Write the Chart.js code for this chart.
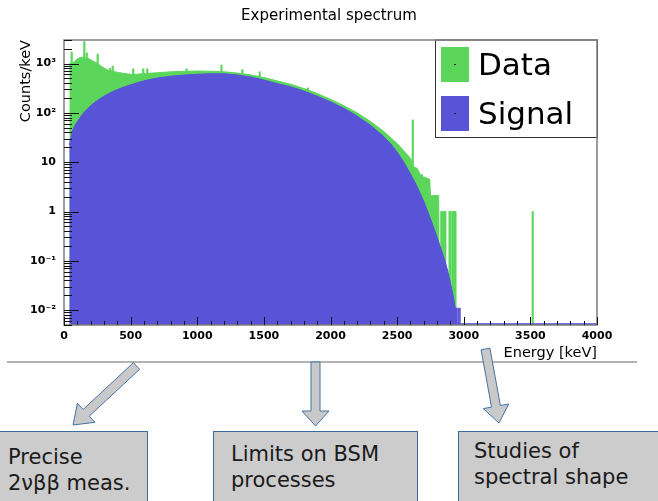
<!DOCTYPE html>
<html>
<head>
<meta charset="utf-8">
<script src="https://cdn.jsdelivr.net/npm/chart.js@4.4.1/dist/chart.umd.min.js"></script>
<style>
  html, body { margin: 0; padding: 0; background: #fff; }
  body { width: 658px; height: 501px; position: relative; overflow: hidden; font-family: "DejaVu Sans", sans-serif; }
  #spectrum { position: absolute; left: 0; top: 0; }
  .rule { position: absolute; left: 7px; top: 361px; width: 630px; height: 1.5px; background: #b3b3b3; }
  .box { position: absolute; top: 431px; height: 80px; background: #cccccc; border: 1px solid #3d6a9f;
         box-sizing: border-box; color: #1a1a1a; font-size: 21px; line-height: 26px; white-space: nowrap; }
  svg.arrows { position: absolute; left: 0; top: 0; }
</style>
</head>
<body>
<canvas id="spectrum" width="658" height="372"></canvas>
<div class="rule"></div>
<svg class="arrows" width="658" height="501">
  <g fill="#c9c9c9" stroke="#4472a8" stroke-width="1">
    <polygon points="133.4,362.7 139.6,369.3 89.3,416.1 95.0,422.3 73,425 77.4,403.3 83.1,409.5"/>
    <polygon points="311,362 320,362 320,411 329,411 315.5,426 302,411 311,411"/>
    <polygon points="481.1,349.8 489.9,348.2 500.4,405.5 508.7,404.0 499,423 483.2,408.6 491.5,407.1"/>
  </g>
</svg>
<div class="box" style="left:-1px; width:149px; padding:12px 0 0 8px;">Precise<br>2νββ meas.</div>
<div class="box" style="left:213px; width:205px; padding:9px 0 0 17px;">Limits on BSM<br>processes</div>
<div class="box" style="left:458px; width:210px; padding:6px 0 0 15px;">Studies of<br>spectral shape</div>

<script>
// axes
const xMin = 0, xMax = 4000;
const yMin = 0.005, yMax = 3000;
const xTickValues = [0, 500, 1000, 1500, 2000, 2500, 3000, 3500, 4000];
const xMinorStep = 100;
const yTickValues = [0.01, 0.1, 1, 10, 100, 1000];
const yTickLabels = ['10⁻²', '10⁻¹', '1', '10', '10²', '10³'];
const legendLabels = ['Data', 'Signal'];
const titleText = 'Experimental spectrum';

// signal spectrum, counts/keV
const signalEnergy = [40, 50, 65, 80, 100, 125, 150, 200, 250, 300, 350, 400, 450, 500, 550, 600, 650, 700,
  800, 900, 1000, 1100, 1200, 1300, 1400, 1500, 1600, 1700, 1800, 1900, 2000, 2100, 2200, 2300, 2400,
  2450, 2500, 2550, 2600, 2650, 2700, 2750, 2800, 2850, 2875, 2900, 2920, 2936, 2941, 4000];
const signalCounts = [22, 30, 44, 54, 66, 84, 102, 140, 178, 218, 258, 296, 334, 370, 410, 446, 478, 508,
  552, 584, 606, 620, 620, 588, 535, 462, 392, 338, 277, 218, 167, 124, 86, 56, 33,
  24, 16, 10, 5.8, 3.2, 1.6, 0.72, 0.3, 0.12, 0.07, 0.036, 0.02, 0.011, 0.0053, 0.0053];
// isolated signal bins just past the endpoint
const signalBinEnergy = [2950, 2962, 2975];
const signalBinCounts = [0.011, 0.011, 0.011];

// measured continuum, counts/keV
const dataEnergy = [40, 60, 80, 100, 125, 150, 175, 200, 225, 250, 275, 300, 325, 350, 400, 450, 500, 550,
  600, 700, 800, 900, 1000, 1100, 1200, 1300, 1400, 1500, 1600, 1700, 1800, 1900, 2000, 2100, 2200,
  2300, 2400, 2500, 2550, 2600, 2625, 2650, 2675, 2700, 2745, 2750, 2812, 2815];
const dataCounts = [1000, 1000, 1100, 1250, 1330, 1350, 1300, 1200, 1100, 1000, 900, 810, 750, 710, 665, 630, 605, 608,
  625, 650, 680, 695, 705, 700, 680, 640, 590, 520, 445, 380, 312, 247, 188, 140, 100,
  67, 42, 24, 17, 12, 8, 7.5, 5.5, 5, 4.5, 2.1, 2.1, 0.1];
// gamma lines sitting on the continuum
const lineEnergy = [52, 147, 165, 247, 340, 360, 514, 589, 619, 914, 1176, 1333, 1463, 1825, 2612, 2680, 3512];
const lineCounts = [1700, 2800, 1650, 1550, 800, 890, 780, 780, 780, 780, 930, 750, 680, 320, 72, 5.6, 1];
// single-count bins in the high energy tail
const tailEnergy = [2826, 2832, 2838, 2844, 2850, 2856, 2888, 2896, 2912, 2918, 2924, 2932];
const tailCounts = [1, 1, 1, 1, 1, 1, 1, 1, 1, 1, 1, 1];

const green = '#5bd65b';
const blue = '#5953d8';
const font = '"DejaVu Sans", sans-serif';

const pts = (xs, ys) => xs.map((x, i) => ({x: x, y: ys[i]}));

// title, legend and ROOT-style frame with inward ticks
const rootFrame = {
  id: 'rootFrame',
  afterDatasetsDraw(chart) {
    const {ctx, chartArea: a, scales: {x, y}} = chart;
    ctx.save();

    // title centred on the whole canvas
    ctx.fillStyle = '#000';
    ctx.font = '15px ' + font;
    ctx.textAlign = 'center';
    ctx.textBaseline = 'middle';
    ctx.fillText(titleText, chart.width / 2, 16);
    ctx.textAlign = 'left';

    // legend
    const lx = a.right - 162, lb = a.top + 97;
    ctx.fillStyle = '#fff';
    ctx.fillRect(lx, a.top, a.right - lx, lb - a.top);
    ctx.strokeStyle = '#333';
    ctx.lineWidth = 1;
    ctx.strokeRect(lx + 0.5, a.top, a.right - lx, lb - a.top + 0.5);
    legendLabels.forEach((name, i) => {
      const d = chart.data.datasets.find(ds => ds.label === name);
      const top = a.top + 7 + i * 49;
      ctx.fillStyle = d.backgroundColor;
      ctx.fillRect(lx + 6, top, 28, 35);
      ctx.fillStyle = '#222';
      ctx.fillRect(lx + 19, top + 17, 2, 1);
      ctx.fillStyle = '#000';
      ctx.font = '31px ' + font;
      ctx.textBaseline = 'alphabetic';
      ctx.fillText(name, lx + 43, top + 28);
    });

    // frame
    ctx.strokeStyle = '#7d7d7d';
    ctx.lineWidth = 1.5;
    ctx.strokeRect(a.left, a.top, a.right - a.left, a.bottom - a.top);

    // ticks
    ctx.strokeStyle = '#111';
    ctx.lineWidth = 1;
    ctx.beginPath();
    for (let e = xMin; e <= xMax; e += xMinorStep) {
      const px = Math.round(x.getPixelForValue(e)) + 0.5;
      const len = xTickValues.includes(e) ? 8 : 4;
      ctx.moveTo(px, a.bottom);
      ctx.lineTo(px, a.bottom - len);
    }
    [0.001].concat(yTickValues).forEach(decade => {
      for (let m = 1; m <= 9; m++) {
        const v = decade * m;
        if (v < yMin || v > yMax) continue;
        const py = Math.round(y.getPixelForValue(v)) + 0.5;
        ctx.moveTo(a.left, py);
        ctx.lineTo(a.left + (m === 1 ? 15 : 8), py);
      }
    });
    ctx.stroke();
    ctx.restore();
  }
};

new Chart(document.getElementById('spectrum'), {
  type: 'line',
  data: {
    datasets: [
      {
        label: 'Signal', data: pts(signalEnergy, signalCounts),
        backgroundColor: blue, borderColor: blue, borderWidth: 1, fill: 'start',
        pointRadius: 0, tension: 0, order: 0
      },
      {
        type: 'bar', label: 'Signal bins', data: pts(signalBinEnergy, signalBinCounts),
        backgroundColor: blue, barThickness: 1, order: 1
      },
      {
        type: 'bar', label: 'Data lines', data: pts(lineEnergy.concat(tailEnergy), lineCounts.concat(tailCounts)),
        backgroundColor: green, barThickness: 1.5, order: 2
      },
      {
        label: 'Data', data: pts(dataEnergy, dataCounts),
        backgroundColor: green, borderColor: green, borderWidth: 1, fill: 'start',
        pointRadius: 0, tension: 0, order: 3
      }
    ]
  },
  options: {
    responsive: false,
    animation: false,
    devicePixelRatio: 1,
    layout: {padding: {top: 40, right: 61, bottom: 0, left: 0}},
    plugins: {
      legend: {display: false},
      tooltip: {enabled: false},
      title: {display: false}
    },
    scales: {
      x: {
        type: 'linear', min: xMin, max: xMax, offset: false,
        grid: {display: false, drawTicks: false}, border: {display: false},
        afterBuildTicks: s => { s.ticks = xTickValues.map(v => ({value: v})); },
        afterFit: s => { s.height = 47; },
        ticks: {
          color: '#000', font: {family: font, size: 11, weight: 'bold'}, padding: 5, maxRotation: 0, autoSkip: false,
          callback: v => String(v)
        },
        title: {display: true, text: 'Energy [keV]', align: 'end', color: '#000',
                font: {family: font, size: 14.5}, padding: {top: 0, bottom: 10}}
      },
      y: {
        type: 'logarithmic', min: yMin, max: yMax,
        grid: {display: false, drawTicks: false}, border: {display: false},
        afterBuildTicks: s => { s.ticks = yTickValues.map(v => ({value: v})); },
        afterFit: s => { s.width = 64; },
        ticks: {
          color: '#000', font: {family: font, size: 11, weight: 'bold'}, padding: 8, autoSkip: false,
          callback: v => yTickLabels[yTickValues.indexOf(v)]
        },
        title: {display: true, text: 'Counts/keV', align: 'end', color: '#000',
                font: {family: font, size: 14.5}, padding: {top: 18, bottom: 0}}
      }
    }
  },
  plugins: [rootFrame]
});
</script>
</body>
</html>
